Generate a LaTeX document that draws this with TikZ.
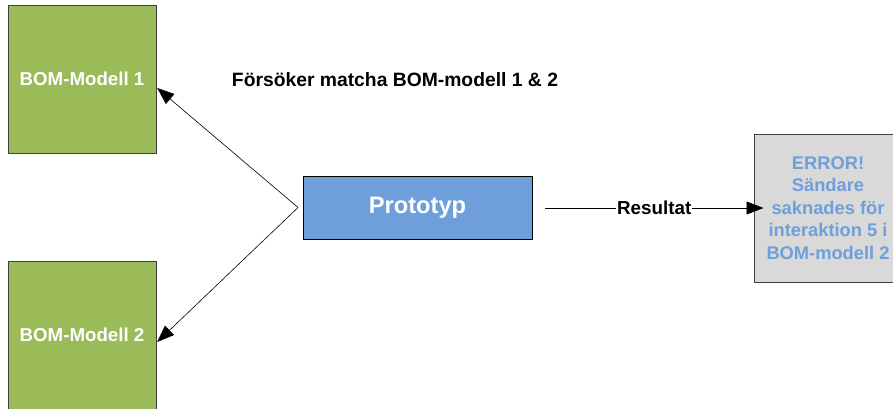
\documentclass[tikz,border=0pt]{standalone}
\usepackage{fontspec}
\setmainfont{Liberation Sans}
\usetikzlibrary{arrows.meta,calc}
\definecolor{bomgreen}{HTML}{9BBB59}
\definecolor{protoblue}{HTML}{6F9FDA}
\definecolor{errgrey}{HTML}{D9D9D9}
\definecolor{errtext}{HTML}{6F9FDA}
\definecolor{edgegrey}{HTML}{404040}
\tikzset{
  bombox/.style={draw=edgegrey, fill=bomgreen, minimum width=148pt, minimum height=148pt, inner sep=0pt, text=white, font=\bfseries\fontsize{18.7}{22}\selectfont},
  protobox/.style={draw=black, fill=protoblue, minimum width=229pt, minimum height=63pt, inner sep=0pt, text=white, font=\bfseries\fontsize{23.7}{26}\selectfont},
  errbox/.style={draw=edgegrey, line width=1pt, fill=errgrey, minimum width=148pt, minimum height=148pt, inner sep=0pt, text=errtext, align=center, font=\bfseries\fontsize{18.3}{22.5}\selectfont},
  conn/.style={draw=black, line width=0.6pt, -{Triangle[length=17pt,width=13pt]}},
  lbl/.style={font=\bfseries\fontsize{18.8}{20}\selectfont, inner sep=1pt, fill=white}
}
\begin{document}
\begin{tikzpicture}[x=1pt,y=-1pt]
\useasboundingbox (0,0) rectangle (893,408);
\node[bombox] (b1) at (82,79) {BOM-Modell 1};
\node[bombox] (b2) at (82,335) {BOM-Modell 2};
\node[protobox] (p) at (417.5,207.5) {Prototyp};
\node[errbox] (e) at (828,208) {ERROR!\\Sändare\\saknades för\\interaktion 5 i\\BOM-modell 2};
\node[font=\bfseries\fontsize{19.3}{22}\selectfont, anchor=center] (t) at (395,80) {Försöker matcha BOM-modell 1 \& 2};
\coordinate (v) at (298,207.5);
\coordinate (r) at (545,208);
\draw[conn] (v) -- ($(b1.east)+(1,9)$);
\draw[conn] (v) -- ($(b2.east)+(1,7)$);
\draw[conn] (r) -- node[lbl, xshift=0pt] {Resultat} ($(r -| e.west)+(10,0)$);
\end{tikzpicture}
\end{document}
